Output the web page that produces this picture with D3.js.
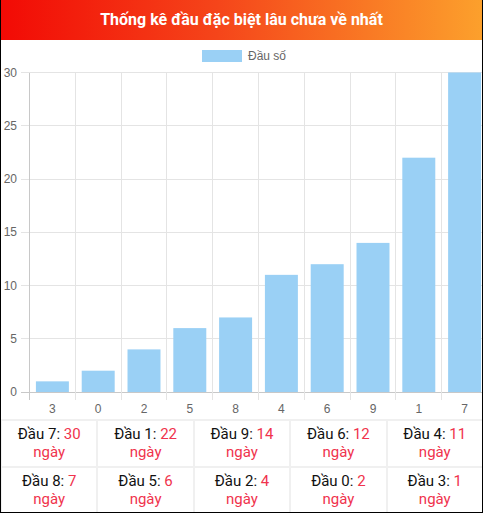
<!DOCTYPE html>
<html><head><meta charset="utf-8">
<script src="https://cdn.jsdelivr.net/npm/d3@7"></script>
<style>
html,body{margin:0;padding:0;background:#fff;}
#wrap{position:relative;width:483px;height:513px;box-sizing:border-box;border:1px solid #000;border-top:none;overflow:hidden;font-family:Roboto,"Noto Sans",sans-serif;}
#hdr{height:40px;background:linear-gradient(to right,#f20a05,#f5451a 45%,#fca02c);color:#fff;font-weight:bold;font-size:16px;text-align:center;line-height:40px;}
svg{position:absolute;left:-1px;top:0;}
#tbl{position:absolute;left:-1px;top:419px;width:484px;border-collapse:collapse;table-layout:fixed;}
#tbl td{border:2px solid #f0f0f0;text-align:center;font-size:15px;line-height:18px;padding:4px 0 5px 0;color:#111;}
#tbl .r{color:#f0334d;}
</style></head>
<body><div id="wrap"><div id="hdr">Thống kê đầu đặc biệt lâu chưa về nhất</div></div>
<script>
const categories = ["3","0","2","5","8","4","6","9","1","7"];
const values = [1,2,4,6,7,11,12,14,22,30];
const yTicks = [0,5,10,15,20,25,30];
const legendLabel = "Đầu số";
const tableHeads = ["7","1","9","6","4","8","5","2","0","3"];
const tableDays = [30,22,14,12,11,7,6,4,2,1];
const unit = "ngày";

const W = 484, H = 420;
const axisFont = "'Liberation Sans', Arial, Helvetica, sans-serif";
const svg = d3.select("#wrap").append("svg").attr("width", W).attr("height", H);
const x = d3.scaleBand().domain(categories).range([29.5, 29.5 + 45.8*10]).padding(0);
const y = d3.scaleLinear().domain([0,30]).range([392, 72.5]);
const grid = "#e4e4e4";

// horizontal grid
svg.append("g").selectAll("line").data(yTicks).join("line")
  .attr("x1", 21).attr("x2", W).attr("y1", d=>y(d)).attr("y2", d=>y(d))
  .attr("stroke", d=> d===0 ? "#c8c8c8" : grid).attr("stroke-width",1).attr("shape-rendering","crispEdges");
// vertical grid
const edges = categories.map(c=>x(c));
svg.append("g").selectAll("line").data(edges).join("line")
  .attr("x1", d=>d).attr("x2", d=>d).attr("y1", y(30)).attr("y2", 400)
  .attr("stroke", (d,i)=> i===0 ? "#c8c8c8" : grid).attr("stroke-width",1).attr("shape-rendering","crispEdges");

// y labels
svg.append("g").selectAll("text").data(yTicks).join("text")
  .attr("x", 17).attr("y", d=>y(d)).attr("dy","0.35em").attr("text-anchor","end")
  .attr("font-size",12).attr("fill","#666").attr("font-family",axisFont).text(d=>d);
// x labels
svg.append("g").selectAll("text").data(categories).join("text")
  .attr("x", d=>x(d)+x.bandwidth()/2).attr("y", 409).attr("dy","0.35em").attr("text-anchor","middle")
  .attr("font-size",12).attr("fill","#666").attr("font-family",axisFont).text(d=>d);

// bars
const bw = x.bandwidth()*0.72;
svg.append("g").selectAll("rect").data(values).join("rect")
  .attr("x", (d,i)=>x(categories[i]) + (x.bandwidth()-bw)/2)
  .attr("width", bw)
  .attr("y", d=>y(d)).attr("height", d=>y(0)-y(d))
  .attr("fill","#9ad0f5");

// legend
const lg = svg.append("g");
lg.append("rect").attr("x",202).attr("y",50).attr("width",40).attr("height",12).attr("fill","#9ad0f5");
lg.append("text").attr("x",248).attr("y",56).attr("dy","0.35em").attr("font-size",12).attr("fill","#666")
  .attr("font-family",axisFont).text(legendLabel);

// table
const tbl = d3.select("#wrap").append("table").attr("id","tbl");
const rows = [0,1].map(r=>d3.range(5).map(c=>r*5+c));
tbl.selectAll("tr").data(rows).join("tr").selectAll("td").data(d=>d).join("td")
  .html(i=>`Đầu ${tableHeads[i]}: <span class="r">${tableDays[i]}</span><br><span class="r">${unit}</span>`);
</script></body></html>
